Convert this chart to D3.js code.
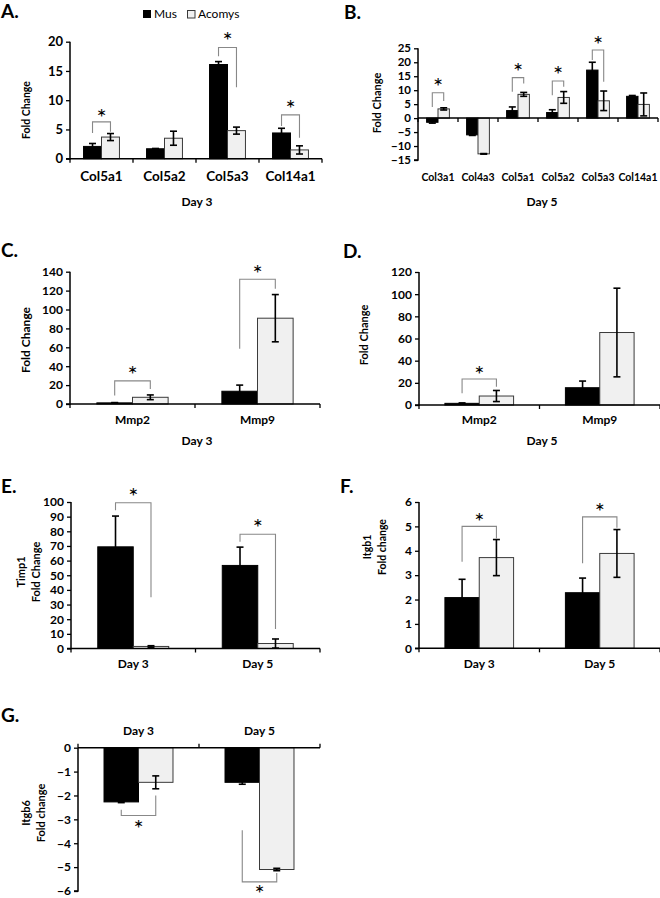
<!DOCTYPE html>
<html><head><meta charset="utf-8">
<script src="https://cdn.jsdelivr.net/npm/d3@7"></script>
<style>body{margin:0;background:#fff} text{font-family:Lato,"Open Sans",sans-serif}</style>
</head><body><svg id="c" width="660" height="898"></svg>
<script>
const seriesNames = ["Mus", "Acomys"];

// Panel A (Day 3 collagens)
const catsA = ["Col5a1", "Col5a2", "Col5a3", "Col14a1"];
const musA = [2.1, 1.7, 16.1, 4.4];
const musErrA = [0.5, 0.05, 0.5, 0.8];
const acoA = [3.7, 3.5, 4.8, 1.5];
const acoErrA = [0.6, 1.2, 0.6, 0.7];
const ticksA = [0, 5, 10, 15, 20];
// significance: [category index, bracket level, left leg end, right leg end, asterisk level]
const sigA = [[0, 6.3, 4.4, 4.6, 7.8], [2, 19.0, 17.5, 12.2, 21], [3, 7.5, 5.6, 3.6, 9.3]];

// Panel B (Day 5 collagens)
const catsB = ["Col3a1", "Col4a3", "Col5a1", "Col5a2", "Col5a3", "Col14a1"];
const musB = [-1.5, -6.0, 2.7, 2.0, 17.2, 7.8];
const musErrB = [0.3, 0.2, 1.3, 1.0, 2.8, 0.3];
const acoB = [3.3, -12.8, 8.5, 7.4, 6.2, 4.9];
const acoErrB = [0.4, 0.1, 0.7, 2.1, 3.5, 4.1];
const ticksB = [-15, -10, -5, 0, 5, 10, 15, 20, 25];
const sigB = [[0, 9.1, 4.0, 6.1, 13], [2, 14.5, 9.4, 12.4, 18.4], [3, 13.3, 8.2, 11.2, 17.4], [4, 24.4, 20.8, 13, 28]];

// Panel C (Day 3 MMPs)
const catsC = ["Mmp2", "Mmp9"];
const musC = [1.2, 13.5];
const musErrC = [0.3, 6.5];
const acoC = [7.1, 90.8];
const acoErrC = [2.5, 25];
const ticksC = [0, 20, 40, 60, 80, 100, 120, 140];
const sigC = [[0, 24.5, 8.9, 16, 36], [1, 132, 58.5, 122, 142.5]];

// Panel D (Day 5 MMPs)
const catsD = ["Mmp2", "Mmp9"];
const musD = [1.5, 15.6];
const musErrD = [0.4, 6];
const acoD = [8.1, 65.4];
const acoErrD = [5, 40];
const ticksD = [0, 20, 40, 60, 80, 100, 120];
const sigD = [[0, 23.4, 10.5, 16.5, 32]];

// Panel E (Timp1)
const catsE = ["Day 3", "Day 5"];
const musE = [69.4, 56.7];
const musErrE = [21, 12.5];
const acoE = [1.4, 3.4];
const acoErrE = [0.5, 3.1];
const ticksE = [0, 10, 20, 30, 40, 50, 60, 70, 80, 90, 100];
const sigE = [[0, 99.5, 94.3, 35, 106.8], [1, 78, 72.8, 13.3, 85.7]];

// Panel F (Itgb1)
const catsF = ["Day 3", "Day 5"];
const musF = [2.08, 2.28];
const musErrF = [0.75, 0.6];
const acoF = [3.72, 3.89];
const acoErrF = [0.74, 0.98];
const ticksF = [0, 1, 2, 3, 4, 5, 6];
const sigF = [[0, 5.0, 3.55, 4.5, 5.4], [1, 5.39, 3.49, 4.94, 5.8]];

// Panel G (Itgb6)
const catsG = ["Day 3", "Day 5"];
const musG = [-2.27, -1.45];
const musErrG = [0.03, 0.08];
const acoG = [-1.45, -5.1];
const acoErrG = [0.27, 0.05];
const ticksG = [0, -1, -2, -3, -4, -5, -6];
const sigG = [[0, -2.84, -2.6, -2.0, -3.2], [1, -5.62, -3.46, -5.25, -5.9]];

const svg = d3.select("#c");

function panel(o) {
  const g = svg.append("g");
  const y = d3.scaleLinear().domain(o.domain).range(o.yRange);
  const x = d3.scaleBand().domain(o.cats).range([o.x0, o.x1]).paddingInner(0.43).paddingOuter(0.215);
  const xi = d3.scaleBand().domain(seriesNames).range([0, x.bandwidth()]);
  const rows = o.cats.map((c, i) => ({c, vals: [o.mus[i], o.aco[i]], errs: [o.musErr[i], o.acoErr[i]]}));
  // bars
  rows.forEach(r => {
    seriesNames.forEach((s, k) => {
      const v = r.vals[k];
      g.append("rect")
        .attr("x", x(r.c) + xi(s)).attr("width", xi.bandwidth())
        .attr("y", Math.min(y(v), y(0))).attr("height", Math.abs(y(v) - y(0)))
        .attr("fill", k === 0 ? "#000" : "#f0f0f0")
        .attr("stroke", k === 0 ? "#000" : "#3a3a3a").attr("stroke-width", 1);
    });
  });
  // error bars
  rows.forEach(r => {
    seriesNames.forEach((s, k) => {
      const cx = x(r.c) + xi(s) + xi.bandwidth() / 2;
      const v = r.vals[k], e = r.errs[k];
      const col = "#000";
      g.append("line").attr("x1", cx).attr("x2", cx).attr("y1", y(v - e)).attr("y2", y(v + e))
        .attr("stroke", col).attr("stroke-width", 1.6);
      [v - e, v + e].forEach(t => g.append("line").attr("x1", cx - 3.5).attr("x2", cx + 3.5)
        .attr("y1", y(t)).attr("y2", y(t)).attr("stroke", col).attr("stroke-width", 1.6));
    });
  });
  // y axis
  const ya = d3.axisLeft(y).tickValues(o.ticks).tickSize(4).tickPadding(3).tickFormat(d3.format("d"));
  const yg = g.append("g").attr("transform", `translate(${o.x0},0)`).call(ya);
  yg.select(".domain").attr("stroke", "#000").attr("stroke-width", 1.5).attr("d", `M-4,${y(o.domain[0])}H0V${y(o.domain[1])}`);
  yg.selectAll(".tick line").attr("stroke", "#000").attr("stroke-width", 1.3);
  yg.selectAll(".tick text").attr("font-size", o.tickFs).attr("font-weight", "bold").attr("fill", "#000")
    .attr("font-family", "Lato");
  // x axis at zero
  const y0 = y(0);
  g.append("line").attr("x1", o.x0).attr("x2", o.x1).attr("y1", y0).attr("y2", y0)
    .attr("stroke", "#000").attr("stroke-width", 1.5);
  const step = x.step();
  const dir = o.tickUp ? -4 : 4;
  for (let i = 0; i <= o.cats.length; i++) {
    const tx = o.x0 + i * step;
    g.append("line").attr("x1", tx).attr("x2", tx).attr("y1", y0).attr("y2", y0 + dir)
      .attr("stroke", "#000").attr("stroke-width", 1.3);
  }
  // category labels
  o.cats.forEach(c => {
    g.append("text").attr("x", x(c) + x.bandwidth() / 2).attr("y", o.catY)
      .attr("text-anchor", "middle").attr("font-size", o.catFs).attr("font-weight", "bold").text(c);
  });
  // significance brackets
  o.sig.forEach(s => {
    const c = o.cats[s[0]];
    const lx = x(c) + xi("Mus") + xi.bandwidth() / 2;
    const rx = x(c) + xi("Acomys") + xi.bandwidth() / 2;
    g.append("path").attr("d", `M${lx},${y(s[2])}V${y(s[1])}H${rx}V${y(s[3])}`)
      .attr("fill", "none").attr("stroke", "#888").attr("stroke-width", 1.1);
    g.append("text").attr("x", (lx + rx) / 2).attr("y", y(s[4]) + 13)
      .attr("text-anchor", "middle").attr("font-size", 24).attr("font-family", "DejaVu Sans").text("*");
  });
  // y title
  const lines = o.title;
  lines.forEach((t, i) => {
    g.append("text").attr("transform", `translate(${o.titleX[i]},${o.titleY}) rotate(-90)`)
      .attr("text-anchor", "middle").attr("dominant-baseline", "middle")
      .attr("font-size", o.titleFs).attr("font-weight", "bold").text(t);
  });
  // sub label (Day)
  if (o.sub) g.append("text").attr("x", o.sub[0]).attr("y", o.sub[1]).attr("text-anchor", "middle")
    .attr("font-size", 12).attr("font-weight", "bold").text(o.sub[2]);
  // panel letter
  g.append("text").attr("x", o.letter[0]).attr("y", o.letter[1]).attr("font-size", 19)
    .attr("font-weight", "bold").text(o.letter[2]);
}

panel({cats: catsA, mus: musA, musErr: musErrA, aco: acoA, acoErr: acoErrA, ticks: ticksA, sig: sigA,
  domain: [0, 20], yRange: [158.7, 41.7], x0: 70, x1: 322, tickFs: 13, catFs: 13.5, catY: 181,
  title: ["Fold Change"], titleX: [27], titleY: 110, titleFs: 10.5, sub: [197, 206, "Day 3"], letter: [1, 18, "A."]});

panel({cats: catsB, mus: musB, musErr: musErrB, aco: acoB, acoErr: acoErrB, ticks: ticksB, sig: sigB,
  domain: [-15, 25], yRange: [160, 48.3], x0: 418, x1: 658, tickFs: 11.5, catFs: 10.5, catY: 181,
  title: ["Fold Change"], titleX: [378], titleY: 103, titleFs: 11, sub: [542, 206, "Day 5"], letter: [344, 19, "B."]});

panel({cats: catsC, mus: musC, musErr: musErrC, aco: acoC, acoErr: acoErrC, ticks: ticksC, sig: sigC,
  domain: [0, 140], yRange: [404, 271.7], x0: 70, x1: 320, tickFs: 12, catFs: 12, catY: 424,
  title: ["Fold Change"], titleX: [27], titleY: 340, titleFs: 12, sub: [197, 445, "Day 3"], letter: [1, 257, "C."]});

panel({cats: catsD, mus: musD, musErr: musErrD, aco: acoD, acoErr: acoErrD, ticks: ticksD, sig: sigD,
  domain: [0, 120], yRange: [405, 272], x0: 419, x1: 660, tickFs: 12, catFs: 12, catY: 424,
  title: ["Fold Change"], titleX: [365], titleY: 335, titleFs: 11, sub: [542, 445, "Day 5"], letter: [343, 258, "D."]});

panel({cats: catsE, mus: musE, musErr: musErrE, aco: acoE, acoErr: acoErrE, ticks: ticksE, sig: sigE,
  domain: [0, 100], yRange: [648.5, 502], x0: 71, x1: 320, tickFs: 12, catFs: 12, catY: 668,
  title: ["Timp1", "Fold Change"], titleX: [22, 37], titleY: 572, titleFs: 11, letter: [1, 493, "E."]});

panel({cats: catsF, mus: musF, musErr: musErrF, aco: acoF, acoErr: acoErrF, ticks: ticksF, sig: sigF,
  domain: [0, 6], yRange: [648.3, 502], x0: 419, x1: 660, tickFs: 12, catFs: 12, catY: 668,
  title: ["Itgb1", "Fold change"], titleX: [368, 383], titleY: 547, titleFs: 10.5, letter: [340, 493, "F."]});

panel({cats: catsG, mus: musG, musErr: musErrG, aco: acoG, acoErr: acoErrG, ticks: ticksG, sig: sigG,
  domain: [-6, 0], yRange: [891, 747.7], x0: 78, x1: 320, tickFs: 12, catFs: 12, catY: 735, tickUp: true,
  title: ["Itgb6", "Fold change"], titleX: [27, 42], titleY: 813, titleFs: 11, letter: [1, 722, "G."]});

// legend
const leg = svg.append("g");
leg.append("rect").attr("x", 143).attr("y", 10).attr("width", 8).attr("height", 8).attr("fill", "#000");
leg.append("text").attr("x", 154).attr("y", 18).attr("font-size", 12).text(seriesNames[0]);
leg.append("rect").attr("x", 187.5).attr("y", 10.5).attr("width", 7.5).attr("height", 7.5)
  .attr("fill", "#f0f0f0").attr("stroke", "#3a3a3a").attr("stroke-width", 1);
leg.append("text").attr("x", 198).attr("y", 18).attr("font-size", 12).text(seriesNames[1]);
</script></body></html>
